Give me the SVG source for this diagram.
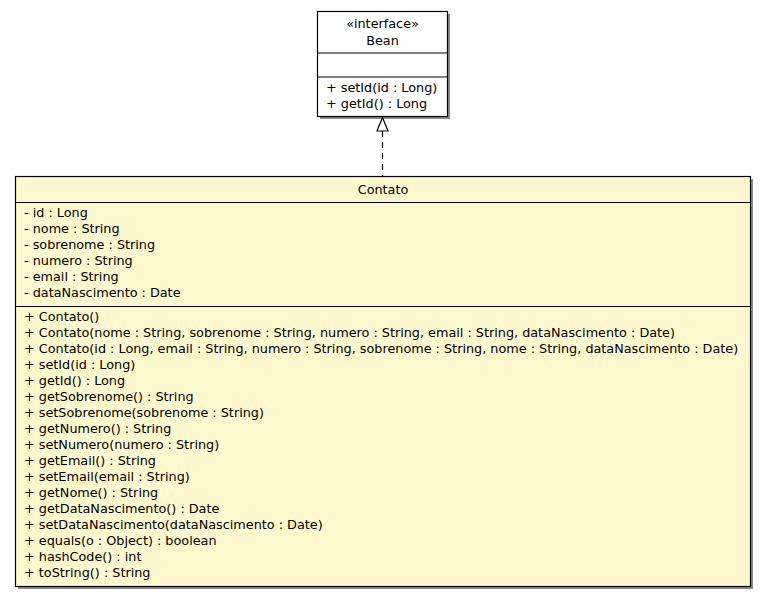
<svg xmlns="http://www.w3.org/2000/svg" width="765" height="597" viewBox="0 0 765 597">
<style>
text{font-family:"DejaVu Sans",sans-serif;font-size:12.8px;fill:#000}
.c{text-anchor:middle}
.box{stroke:#000;stroke-width:1.2}
.sh{fill:#8a8a8a}
.ln{stroke:#000;stroke-width:1.2}
</style>
<rect width="765" height="597" fill="#fff"/>
<g id="Bean">
<rect class="sh" x="320" y="14" width="130" height="105"/>
<rect class="box" x="317.5" y="11.5" width="130" height="105" fill="#fff"/>
<line class="ln" x1="317.5" y1="53" x2="447.5" y2="53"/>
<line class="ln" x1="317.5" y1="77" x2="447.5" y2="77"/>
<text class="c" x="382.5" y="28">«interface»</text>
<text class="c" x="382.5" y="44.5">Bean</text>
<text x="326" y="91.5">+ setId(id : Long)</text>
<text x="326" y="107.5">+ getId() : Long</text>
</g>
<g id="connectors">
<line x1="382.5" y1="131" x2="382.5" y2="176" stroke="#000" stroke-width="1.2" stroke-dasharray="6,5"/>
<polygon points="382.5,117.5 377,131 388,131" fill="#fff" stroke="#000" stroke-width="1.2"/>
</g>
<g id="Contato">
<rect class="sh" x="18" y="179" width="735" height="410"/>
<rect class="box" x="15.5" y="176.5" width="735" height="410" fill="#fff8cf"/>
<line class="ln" x1="15.5" y1="202.5" x2="750.5" y2="202.5"/>
<line class="ln" x1="15.5" y1="306.5" x2="750.5" y2="306.5"/>
<text class="c" x="383" y="193.5">Contato</text>
<text x="24" y="216.5">- id : Long</text>
<text x="24" y="232.5">- nome : String</text>
<text x="24" y="248.5">- sobrenome : String</text>
<text x="24" y="264.5">- numero : String</text>
<text x="24" y="280.5">- email : String</text>
<text x="24" y="296.5">- dataNascimento : Date</text>
<text x="24" y="320.5">+ Contato()</text>
<text x="24" y="336.5">+ Contato(nome : String, sobrenome : String, numero : String, email : String, dataNascimento : Date)</text>
<text x="24" y="352.5">+ Contato(id : Long, email : String, numero : String, sobrenome : String, nome : String, dataNascimento : Date)</text>
<text x="24" y="368.5">+ setId(id : Long)</text>
<text x="24" y="384.5">+ getId() : Long</text>
<text x="24" y="400.5">+ getSobrenome() : String</text>
<text x="24" y="416.5">+ setSobrenome(sobrenome : String)</text>
<text x="24" y="432.5">+ getNumero() : String</text>
<text x="24" y="448.5">+ setNumero(numero : String)</text>
<text x="24" y="464.5">+ getEmail() : String</text>
<text x="24" y="480.5">+ setEmail(email : String)</text>
<text x="24" y="496.5">+ getNome() : String</text>
<text x="24" y="512.5">+ getDataNascimento() : Date</text>
<text x="24" y="528.5">+ setDataNascimento(dataNascimento : Date)</text>
<text x="24" y="544.5">+ equals(o : Object) : boolean</text>
<text x="24" y="560.5">+ hashCode() : int</text>
<text x="24" y="576.5">+ toString() : String</text>
</g>
</svg>
